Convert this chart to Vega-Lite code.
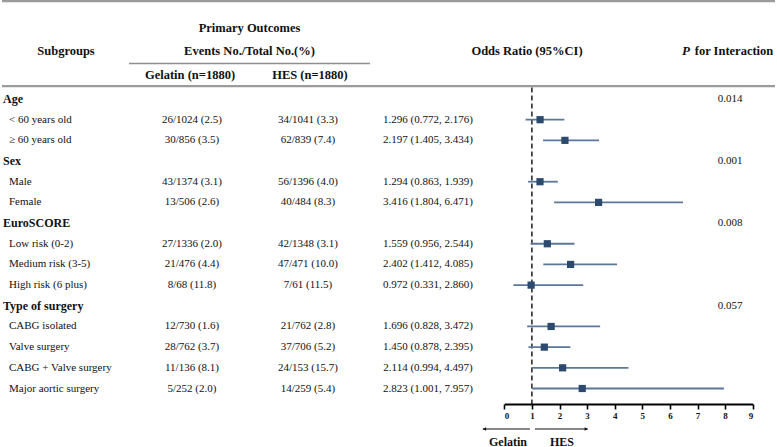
{
  "$schema": "https://vega.github.io/schema/vega-lite/v6.json",
  "width": 777,
  "height": 447,
  "autosize": {"type": "fit", "contains": "padding"},
  "padding": 0,
  "background": "white",
  "config": {"view": {"stroke": null}, "axis": {"grid": false}, "text": {"font": "Liberation Serif", "color": "#111", "baseline": "middle"}},
  "datasets": {
    "rows": [
      {"label": "Age", "level": "group", "p": "0.014"},
      {"label": "\u00a0\u00a0< 60 years old", "level": "item", "gel": "26/1024 (2.5)", "hes": "34/1041 (3.3)", "ortext": "1.296 (0.772, 2.176)", "or": 1.296, "lo": 0.772, "hi": 2.176},
      {"label": "\u00a0\u00a0≥ 60 years old", "level": "item", "gel": "30/856 (3.5)", "hes": "62/839 (7.4)", "ortext": "2.197 (1.405, 3.434)", "or": 2.197, "lo": 1.405, "hi": 3.434},
      {"label": "Sex", "level": "group", "p": "0.001"},
      {"label": "\u00a0\u00a0Male", "level": "item", "gel": "43/1374 (3.1)", "hes": "56/1396 (4.0)", "ortext": "1.294 (0.863, 1.939)", "or": 1.294, "lo": 0.863, "hi": 1.939},
      {"label": "\u00a0\u00a0Female", "level": "item", "gel": "13/506 (2.6)", "hes": "40/484 (8.3)", "ortext": "3.416 (1.804, 6.471)", "or": 3.416, "lo": 1.804, "hi": 6.471},
      {"label": "EuroSCORE", "level": "group", "p": "0.008"},
      {"label": "Low risk (0-2)", "level": "item", "gel": "27/1336 (2.0)", "hes": "42/1348 (3.1)", "ortext": "1.559 (0.956, 2.544)", "or": 1.559, "lo": 0.956, "hi": 2.544},
      {"label": "Medium risk (3-5)", "level": "item", "gel": "21/476 (4.4)", "hes": "47/471 (10.0)", "ortext": "2.402 (1.412, 4.085)", "or": 2.402, "lo": 1.412, "hi": 4.085},
      {"label": "High risk (6 plus)", "level": "item", "gel": "8/68 (11.8)", "hes": "7/61 (11.5)", "ortext": "0.972 (0.331, 2.860)", "or": 0.972, "lo": 0.331, "hi": 2.86},
      {"label": "Type of surgery", "level": "group", "p": "0.057"},
      {"label": "CABG isolated", "level": "item", "gel": "12/730 (1.6)", "hes": "21/762 (2.8)", "ortext": "1.696 (0.828, 3.472)", "or": 1.696, "lo": 0.828, "hi": 3.472},
      {"label": "Valve surgery", "level": "item", "gel": "28/762 (3.7)", "hes": "37/706 (5.2)", "ortext": "1.450 (0.878, 2.395)", "or": 1.45, "lo": 0.878, "hi": 2.395},
      {"label": "CABG + Valve surgery", "level": "item", "gel": "11/136 (8.1)", "hes": "24/153 (15.7)", "ortext": "2.114 (0.994, 4.497)", "or": 2.114, "lo": 0.994, "hi": 4.497},
      {"label": "Major aortic surgery", "level": "item", "gel": "5/252 (2.0)", "hes": "14/259 (5.4)", "ortext": "2.823 (1.001, 7.957)", "or": 2.823, "lo": 1.001, "hi": 7.957}
    ]
  },
  "layer": [
    {
      "data": {"values": [{"line": "top"}, {"line": "rule"}]},
      "mark": {"type": "rule", "color": "#9b9b9b", "strokeWidth": 2.3},
      "encoding": {"y": {"field": "line", "type": "nominal", "scale": {"type": "point", "domain": ["top", "rule"], "range": [1.2, 86.2], "padding": 0}, "axis": null}}
    },
    {
      "data": {"values": [{"line": "sub"}]},
      "mark": {"type": "rule", "color": "#8f8f8f", "strokeWidth": 1.5},
      "encoding": {
        "x": {"datum": "from", "type": "nominal", "scale": {"type": "point", "domain": ["from", "to"], "range": [127, 368], "padding": 0}, "axis": null},
        "x2": {"datum": "to"},
        "y": {"field": "line", "type": "nominal", "scale": {"type": "point", "domain": ["sub"], "range": [63.5, 63.5]}, "axis": null}
      }
    },
    {
      "data": {"values": [{"text": "Subgroups", "row": "t2"}]},
      "mark": {"type": "text", "fontSize": 12.5, "fontWeight": "bold", "align": "center"},
      "encoding": {
        "text": {"field": "text"},
        "x": {"field": "text", "type": "nominal", "scale": {"type": "point", "domain": ["Subgroups"], "range": [64, 64]}, "axis": null},
        "y": {"field": "row", "type": "nominal", "scale": {"type": "point", "domain": ["t1", "t2", "t3"], "range": [27.5, 75], "padding": 0}, "axis": null}
      }
    },
    {
      "data": {"values": [{"text": "Primary Outcomes", "row": "t1", "col": "po"}, {"text": "Events No./Total No.(%)", "row": "t2", "col": "po"}]},
      "mark": {"type": "text", "fontSize": 12.5, "fontWeight": "bold", "align": "center"},
      "encoding": {
        "text": {"field": "text"},
        "x": {"field": "col", "type": "nominal", "scale": {"type": "point", "domain": ["po"], "range": [247.5, 247.5]}, "axis": null},
        "y": {"field": "row", "type": "nominal", "scale": {"type": "point", "domain": ["t1", "t2", "t3"], "range": [27.5, 75], "padding": 0}, "axis": null}
      }
    },
    {
      "data": {"values": [{"text": "Gelatin (n=1880)", "row": "t3"}]},
      "mark": {"type": "text", "fontSize": 12.5, "fontWeight": "bold", "align": "center"},
      "encoding": {
        "text": {"field": "text"},
        "x": {"field": "text", "type": "nominal", "scale": {"type": "point", "domain": ["Gelatin (n=1880)"], "range": [188, 188]}, "axis": null},
        "y": {"field": "row", "type": "nominal", "scale": {"type": "point", "domain": ["t1", "t2", "t3"], "range": [27.5, 75], "padding": 0}, "axis": null}
      }
    },
    {
      "data": {"values": [{"text": "HES (n=1880)", "row": "t3"}]},
      "mark": {"type": "text", "fontSize": 12.5, "fontWeight": "bold", "align": "center"},
      "encoding": {
        "text": {"field": "text"},
        "x": {"field": "text", "type": "nominal", "scale": {"type": "point", "domain": ["HES (n=1880)"], "range": [308, 308]}, "axis": null},
        "y": {"field": "row", "type": "nominal", "scale": {"type": "point", "domain": ["t1", "t2", "t3"], "range": [27.5, 75], "padding": 0}, "axis": null}
      }
    },
    {
      "data": {"values": [{"text": "Odds Ratio (95%CI)", "row": "t2"}]},
      "mark": {"type": "text", "fontSize": 12.5, "fontWeight": "bold", "align": "center"},
      "encoding": {
        "text": {"field": "text"},
        "x": {"field": "text", "type": "nominal", "scale": {"type": "point", "domain": ["Odds Ratio (95%CI)"], "range": [525, 525]}, "axis": null},
        "y": {"field": "row", "type": "nominal", "scale": {"type": "point", "domain": ["t1", "t2", "t3"], "range": [27.5, 75], "padding": 0}, "axis": null}
      }
    },
    {
      "data": {"values": [{"text": "for Interaction", "row": "t2"}]},
      "mark": {"type": "text", "fontSize": 12.5, "fontWeight": "bold", "align": "center"},
      "encoding": {
        "text": {"field": "text"},
        "x": {"field": "text", "type": "nominal", "scale": {"type": "point", "domain": ["for Interaction"], "range": [732, 732]}, "axis": null},
        "y": {"field": "row", "type": "nominal", "scale": {"type": "point", "domain": ["t1", "t2", "t3"], "range": [27.5, 75], "padding": 0}, "axis": null}
      }
    },
    {
      "data": {"values": [{"text": "P", "row": "t2"}]},
      "mark": {"type": "text", "fontSize": 13, "fontWeight": "bold", "fontStyle": "italic", "align": "center"},
      "encoding": {
        "text": {"field": "text"},
        "x": {"field": "text", "type": "nominal", "scale": {"type": "point", "domain": ["P"], "range": [684, 684]}, "axis": null},
        "y": {"field": "row", "type": "nominal", "scale": {"type": "point", "domain": ["t1", "t2", "t3"], "range": [27.5, 75], "padding": 0}, "axis": null}
      }
    },
    {
      "data": {"name": "rows"},
      "transform": [{"filter": "datum.level === 'group'"}],
      "mark": {"type": "text", "fontSize": 12, "fontWeight": "bold", "align": "left"},
      "encoding": {
        "text": {"field": "label"},
        "x": {"field": "level", "type": "nominal", "scale": {"type": "point", "domain": ["group", "item"], "range": [1, 7], "padding": 0}, "axis": null},
        "y": {"field": "label", "type": "nominal", "sort": null, "scale": {"type": "point", "domain": ["Age", "\u00a0\u00a0< 60 years old", "\u00a0\u00a0≥ 60 years old", "Sex", "\u00a0\u00a0Male", "\u00a0\u00a0Female", "EuroSCORE", "Low risk (0-2)", "Medium risk (3-5)", "High risk (6 plus)", "Type of surgery", "CABG isolated", "Valve surgery", "CABG + Valve surgery", "Major aortic surgery"], "range": [99, 388.5], "padding": 0}, "axis": null}
      }
    },
    {
      "data": {"name": "rows"},
      "transform": [{"filter": "datum.level === 'item'"}],
      "mark": {"type": "text", "fontSize": 11, "align": "left"},
      "encoding": {
        "text": {"field": "label"},
        "x": {"field": "level", "type": "nominal", "scale": {"type": "point", "domain": ["group", "item"], "range": [1, 7], "padding": 0}, "axis": null},
        "y": {"field": "label", "type": "nominal", "sort": null, "scale": {"type": "point", "domain": ["Age", "\u00a0\u00a0< 60 years old", "\u00a0\u00a0≥ 60 years old", "Sex", "\u00a0\u00a0Male", "\u00a0\u00a0Female", "EuroSCORE", "Low risk (0-2)", "Medium risk (3-5)", "High risk (6 plus)", "Type of surgery", "CABG isolated", "Valve surgery", "CABG + Valve surgery", "Major aortic surgery"], "range": [99, 388.5], "padding": 0}, "axis": null}
      }
    },
    {
      "data": {"name": "rows"},
      "transform": [{"filter": "isValid(datum.gel)"}, {"calculate": "'gel'", "as": "col"}],
      "mark": {"type": "text", "fontSize": 11, "align": "center"},
      "encoding": {
        "text": {"field": "gel"},
        "x": {"field": "col", "type": "nominal", "scale": {"type": "point", "domain": ["gel"], "range": [190, 190]}, "axis": null},
        "y": {"field": "label", "type": "nominal", "sort": null, "scale": {"type": "point", "domain": ["Age", "\u00a0\u00a0< 60 years old", "\u00a0\u00a0≥ 60 years old", "Sex", "\u00a0\u00a0Male", "\u00a0\u00a0Female", "EuroSCORE", "Low risk (0-2)", "Medium risk (3-5)", "High risk (6 plus)", "Type of surgery", "CABG isolated", "Valve surgery", "CABG + Valve surgery", "Major aortic surgery"], "range": [99, 388.5], "padding": 0}, "axis": null}
      }
    },
    {
      "data": {"name": "rows"},
      "transform": [{"filter": "isValid(datum.hes)"}, {"calculate": "'hes'", "as": "col"}],
      "mark": {"type": "text", "fontSize": 11, "align": "center"},
      "encoding": {
        "text": {"field": "hes"},
        "x": {"field": "col", "type": "nominal", "scale": {"type": "point", "domain": ["hes"], "range": [306, 306]}, "axis": null},
        "y": {"field": "label", "type": "nominal", "sort": null, "scale": {"type": "point", "domain": ["Age", "\u00a0\u00a0< 60 years old", "\u00a0\u00a0≥ 60 years old", "Sex", "\u00a0\u00a0Male", "\u00a0\u00a0Female", "EuroSCORE", "Low risk (0-2)", "Medium risk (3-5)", "High risk (6 plus)", "Type of surgery", "CABG isolated", "Valve surgery", "CABG + Valve surgery", "Major aortic surgery"], "range": [99, 388.5], "padding": 0}, "axis": null}
      }
    },
    {
      "data": {"name": "rows"},
      "transform": [{"filter": "isValid(datum.ortext)"}, {"calculate": "'or'", "as": "col"}],
      "mark": {"type": "text", "fontSize": 11, "align": "center"},
      "encoding": {
        "text": {"field": "ortext"},
        "x": {"field": "col", "type": "nominal", "scale": {"type": "point", "domain": ["or"], "range": [426, 426]}, "axis": null},
        "y": {"field": "label", "type": "nominal", "sort": null, "scale": {"type": "point", "domain": ["Age", "\u00a0\u00a0< 60 years old", "\u00a0\u00a0≥ 60 years old", "Sex", "\u00a0\u00a0Male", "\u00a0\u00a0Female", "EuroSCORE", "Low risk (0-2)", "Medium risk (3-5)", "High risk (6 plus)", "Type of surgery", "CABG isolated", "Valve surgery", "CABG + Valve surgery", "Major aortic surgery"], "range": [99, 388.5], "padding": 0}, "axis": null}
      }
    },
    {
      "data": {"name": "rows"},
      "transform": [{"filter": "isValid(datum.p)"}, {"calculate": "'p'", "as": "col"}],
      "mark": {"type": "text", "fontSize": 11, "align": "center"},
      "encoding": {
        "text": {"field": "p"},
        "x": {"field": "col", "type": "nominal", "scale": {"type": "point", "domain": ["p"], "range": [728, 728]}, "axis": null},
        "y": {"field": "label", "type": "nominal", "sort": null, "scale": {"type": "point", "domain": ["Age", "\u00a0\u00a0< 60 years old", "\u00a0\u00a0≥ 60 years old", "Sex", "\u00a0\u00a0Male", "\u00a0\u00a0Female", "EuroSCORE", "Low risk (0-2)", "Medium risk (3-5)", "High risk (6 plus)", "Type of surgery", "CABG isolated", "Valve surgery", "CABG + Valve surgery", "Major aortic surgery"], "range": [99, 388.5], "padding": 0}, "axis": null}
      }
    },
    {
      "data": {"values": [{"ref": "OR = 1"}]},
      "mark": {"type": "rule", "color": "#111", "strokeWidth": 1.4, "strokeDash": [5, 3]},
      "encoding": {
        "x": {"datum": 1, "type": "quantitative", "scale": {"domain": [0, 9], "range": [502.3, 750.7], "nice": false, "zero": false}, "axis": null},
        "y": {"datum": "top", "type": "nominal", "scale": {"type": "point", "domain": ["top", "bottom"], "range": [87.5, 405], "padding": 0}, "axis": null},
        "y2": {"datum": "bottom"}
      }
    },
    {
      "data": {"name": "rows"},
      "transform": [{"filter": "isValid(datum.or)"}],
      "mark": {"type": "rule", "color": "#5b7899", "strokeWidth": 1.8},
      "encoding": {
        "x": {"field": "lo", "type": "quantitative", "scale": {"domain": [0, 9], "range": [502.3, 750.7], "nice": false, "zero": false},
          "axis": {"orient": "bottom", "offset": -42, "values": [0, 1, 2, 3, 4, 5, 6, 7, 8, 9], "format": "d", "title": null, "domainColor": "#000", "domainWidth": 2, "tickColor": "#000", "tickWidth": 1.6, "tickSize": 5, "labelFont": "Liberation Serif", "labelFontWeight": "bold", "labelFontSize": 9, "labelColor": "#111", "labelPadding": 2, "grid": false}},
        "x2": {"field": "hi"},
        "y": {"field": "label", "type": "nominal", "sort": null, "scale": {"type": "point", "domain": ["Age", "\u00a0\u00a0< 60 years old", "\u00a0\u00a0≥ 60 years old", "Sex", "\u00a0\u00a0Male", "\u00a0\u00a0Female", "EuroSCORE", "Low risk (0-2)", "Medium risk (3-5)", "High risk (6 plus)", "Type of surgery", "CABG isolated", "Valve surgery", "CABG + Valve surgery", "Major aortic surgery"], "range": [99, 388.5], "padding": 0}, "axis": null}
      }
    },
    {
      "data": {"name": "rows"},
      "transform": [{"filter": "isValid(datum.or)"}],
      "mark": {"type": "square", "color": "#2b4a6e", "opacity": 1, "filled": true, "size": 52},
      "encoding": {
        "x": {"field": "or", "type": "quantitative", "scale": {"domain": [0, 9], "range": [502.3, 750.7], "nice": false, "zero": false}, "axis": null},
        "y": {"field": "label", "type": "nominal", "sort": null, "scale": {"type": "point", "domain": ["Age", "\u00a0\u00a0< 60 years old", "\u00a0\u00a0≥ 60 years old", "Sex", "\u00a0\u00a0Male", "\u00a0\u00a0Female", "EuroSCORE", "Low risk (0-2)", "Medium risk (3-5)", "High risk (6 plus)", "Type of surgery", "CABG isolated", "Valve surgery", "CABG + Valve surgery", "Major aortic surgery"], "range": [99, 388.5], "padding": 0}, "axis": null}
      }
    },
    {
      "data": {"values": [{"side": "Gelatin"}]},
      "mark": {"type": "rule", "color": "#111", "strokeWidth": 1.2},
      "encoding": {
        "x": {"datum": 0.93, "type": "quantitative", "scale": {"domain": [0, 9], "range": [502.3, 750.7], "nice": false, "zero": false}, "axis": null},
        "x2": {"datum": -0.78},
        "y": {"field": "side", "type": "nominal", "scale": {"type": "point", "domain": ["Gelatin"], "range": [429, 429]}, "axis": null}
      }
    },
    {
      "data": {"values": [{"side": "HES"}]},
      "mark": {"type": "rule", "color": "#111", "strokeWidth": 1.2},
      "encoding": {
        "x": {"datum": 1.11, "type": "quantitative", "scale": {"domain": [0, 9], "range": [502.3, 750.7], "nice": false, "zero": false}, "axis": null},
        "x2": {"datum": 3.02},
        "y": {"field": "side", "type": "nominal", "scale": {"type": "point", "domain": ["HES"], "range": [429, 429]}, "axis": null}
      }
    },
    {
      "data": {"values": [{"side": "Gelatin"}]},
      "mark": {"type": "point", "shape": "triangle-left", "filled": true, "color": "#111", "opacity": 1, "size": 14},
      "encoding": {
        "x": {"datum": -0.72, "type": "quantitative", "scale": {"domain": [0, 9], "range": [502.3, 750.7], "nice": false, "zero": false}, "axis": null},
        "y": {"field": "side", "type": "nominal", "scale": {"type": "point", "domain": ["Gelatin"], "range": [429, 429]}, "axis": null}
      }
    },
    {
      "data": {"values": [{"side": "HES"}]},
      "mark": {"type": "point", "shape": "triangle-right", "filled": true, "color": "#111", "opacity": 1, "size": 14},
      "encoding": {
        "x": {"datum": 2.97, "type": "quantitative", "scale": {"domain": [0, 9], "range": [502.3, 750.7], "nice": false, "zero": false}, "axis": null},
        "y": {"field": "side", "type": "nominal", "scale": {"type": "point", "domain": ["HES"], "range": [429, 429]}, "axis": null}
      }
    },
    {
      "data": {"values": [{"side": "Gelatin"}, {"side": "HES"}]},
      "mark": {"type": "text", "fontSize": 12, "fontWeight": "bold", "align": "center"},
      "encoding": {
        "text": {"field": "side"},
        "x": {"field": "side", "type": "nominal", "scale": {"type": "point", "domain": ["Gelatin", "HES"], "range": [506, 560], "padding": 0}, "axis": null},
        "y": {"datum": "label", "type": "nominal", "scale": {"type": "point", "domain": ["label"], "range": [441.5, 441.5]}, "axis": null}
      }
    }
  ],
  "resolve": {"scale": {"x": "independent", "y": "independent"}}
}
